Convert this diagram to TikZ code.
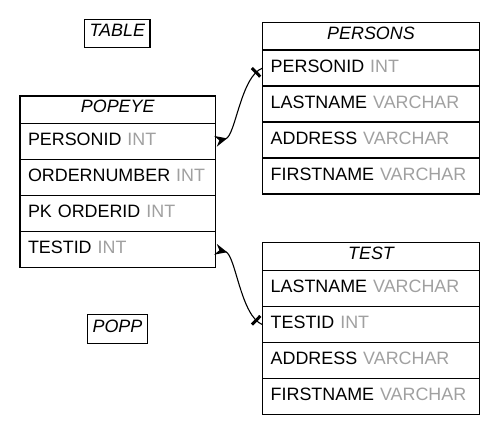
\documentclass[tikz,border=0pt]{standalone}
\usepackage{fontspec}
\setmainfont{Liberation Sans}
\usetikzlibrary{arrows.meta,decorations.markings}
\definecolor{typegray}{HTML}{A0A0A0}
\newcommand{\fld}[2]{\mbox{#1 \textcolor{typegray}{#2}}}
\begin{document}
\begin{tikzpicture}[x=1pt,y=-1pt,
  every node/.style={font=\fontsize{17.9}{20}\selectfont},
  row/.style={draw, line width=1.2pt, anchor=north west, outer sep=0pt,
    minimum height=36pt, inner xsep=8pt, inner ysep=0pt,
    text height=12.9pt, text depth=4.5pt, align=left},
  head/.style={row, minimum height=27.3pt, align=center, text depth=6.8pt,
    font=\fontsize{17.9}{20}\selectfont\itshape},
  lbl/.style={draw, line width=1.2pt, inner xsep=5pt, inner ysep=0pt,
    minimum height=28.4pt, text height=12.9pt, text depth=6.5pt,
    font=\fontsize{17.9}{20}\selectfont\itshape},
  conn/.style={line width=1.1pt, {Stealth[reversed,length=12pt,width=11pt,inset=4pt]}-,
    postaction={decorate},
    decoration={markings,
      mark=at position -8pt with {\draw[arrows=-, line width=3pt] (0pt,-6pt) -- (0pt,6pt);}}}
]
\useasboundingbox (0,0) rectangle (498,433);

% labels
\node[lbl] (tbl) at (117.3,33.5) {TABLE};
\node[lbl] (popp) at (117.5,329) {POPP};

% POPEYE
\node[head, text width=179.5pt] (pe0) at (20,96) {POPEYE};
\node[row, text width=179.5pt] (pe1) at (pe0.south west) {\fld{PERSONID}{INT}};
\node[row, text width=179.5pt] (pe2) at (pe1.south west) {\fld{ORDERNUMBER}{INT}};
\node[row, text width=179.5pt] (pe3) at (pe2.south west) {\fld{PK ORDERID}{INT}};
\node[row, text width=179.5pt] (pe4) at (pe3.south west) {\fld{TESTID}{INT}};

% PERSONS
\node[head, text width=200.6pt] (ps0) at (262.7,22.7) {PERSONS};
\node[row, text width=200.6pt] (ps1) at (ps0.south west) {\fld{PERSONID}{INT}};
\node[row, text width=200.6pt] (ps2) at (ps1.south west) {\fld{LASTNAME}{VARCHAR}};
\node[row, text width=200.6pt] (ps3) at (ps2.south west) {\fld{ADDRESS}{VARCHAR}};
\node[row, text width=200.6pt] (ps4) at (ps3.south west) {\fld{FIRSTNAME}{VARCHAR}};

% TEST
\node[head, text width=200.6pt, minimum height=28pt] (ts0) at (262.7,242.7) {TEST};
\node[row, text width=200.6pt] (ts1) at (ts0.south west) {\fld{LASTNAME}{VARCHAR}};
\node[row, text width=200.6pt] (ts2) at (ts1.south west) {\fld{TESTID}{INT}};
\node[row, text width=200.6pt] (ts3) at (ts2.south west) {\fld{ADDRESS}{VARCHAR}};
\node[row, text width=200.6pt] (ts4) at (ts3.south west) {\fld{FIRSTNAME}{VARCHAR}};

% connectors
\draw[conn] (pe1.east) .. controls +(20,-5) and +(-22,8) .. (ps1.west);
\draw[conn] (pe4.east) .. controls +(20,5) and +(-22,-8) .. (ts2.west);
\end{tikzpicture}
\end{document}
